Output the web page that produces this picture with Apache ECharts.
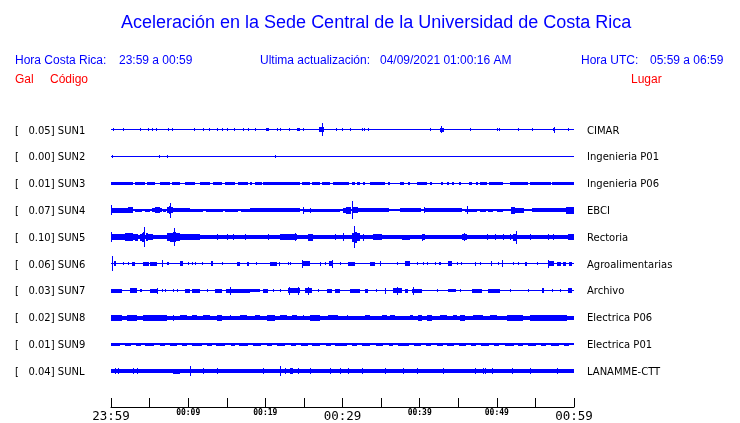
<!DOCTYPE html>
<html>
<head>
<meta charset="utf-8">
<script src="https://cdn.jsdelivr.net/npm/echarts@6.0.0/dist/echarts.min.js"></script>
<style>
html,body{margin:0;padding:0;background:#fff;}
#chart{width:740px;height:423px;}
</style>
</head>
<body>
<div id="chart"></div>
<script>
// ---- data (times in minutes after 23:59, amplitudes in plot units) ----
const tickLabels = ['23:59', '00:09', '00:19', '00:29', '00:39', '00:49', '00:59'];
const bigTicks = ['23:59', '00:29', '00:59'];
const galValues = ['0.05', '0.00', '0.01', '0.07', '0.10', '0.06', '0.03', '0.02', '0.01', '0.04'];
const codes = ['SUN1', 'SUN2', 'SUN3', 'SUN4', 'SUN5', 'SUN6', 'SUN7', 'SUN8', 'SUN9', 'SUNL'];
const places = ['CIMAR', 'Ingenieria P01', 'Ingenieria P06', 'EBCI', 'Rectoria', 'Agroalimentarias', 'Archivo', 'Electrica P06', 'Electrica P01', 'LANAMME-CTT'];

// each entry: [start minute, end minute, half amplitude]
const sun1 = [[0,60,0.6],[0.26,0.26,1.6],[1.55,1.55,1.6],[3.76,3.76,1.6],[4.8,4.8,1.6],[5.3,5.3,1.6],[5.83,5.83,1.6],[7.39,7.39,1.6],[7.9,7.9,1.6],[10.76,10.76,1.6],[11.9,11.9,1.6],[12.7,12.7,1.6],[13.74,13.74,1.6],[14.4,14.4,1.6],[15.03,15.03,1.6],[15.94,15.94,1.6],[17.1,17.1,1.6],[17.75,17.75,1.6],[18.66,18.66,1.6],[21.5,21.5,1.6],[21.9,21.9,1.6],[23.07,23.07,1.6],[24.9,24.9,1.6],[29.16,29.16,1.6],[29.9,29.9,1.6],[31.0,31.0,1.6],[32.5,32.5,1.6],[32.8,32.8,1.6],[33.3,33.3,1.6],[41.3,41.3,1.6],[46.5,46.5,1.6],[50.0,50.0,1.6],[50.3,50.3,1.6],[52.75,52.75,1.6],[54.56,54.56,1.6],[59.2,59.2,1.6],[20.1,20.5,1.5],[24.1,24.5,1.5],[27.0,27.7,2.3],[27.35,27.35,6.3],[42.6,43.1,1.8],[42.77,42.77,3.4],[57.3,57.6,1.6],[57.4,57.4,3.2]];
const sun2 = [[0,60,0.6],[0.1,0.1,1.5],[6.22,6.22,1.3],[7.26,7.26,1.3],[21.25,21.25,1.3]];
const sun3 = [[0,60,0.7],[0,2.85,1.7],[3.1,4.4,1.5],[4.7,5.8,1.5],[6.3,7.6,1.5],[7.9,8.9,1.5],[9.6,10.9,1.5],[11.5,12.8,1.5],[13.2,14.4,1.5],[14.8,16.1,1.5],[16.5,17.8,1.5],[18.0,18.3,1.5],[18.6,19.5,1.5],[19.7,24.5,1.6],[24.7,25.8,1.5],[26.0,27.1,1.5],[27.3,28.4,1.5],[28.8,30.9,1.5],[31.2,31.6,1.5],[31.9,32.3,1.5],[32.6,32.8,1.4],[33.5,35.4,1.5],[35.9,36.2,1.5],[37.4,37.9,1.5],[38.5,38.8,1.5],[39.6,40.9,1.6],[41.4,41.6,1.4],[42.7,42.9,1.4],[43.6,43.9,1.4],[44.2,44.5,1.4],[45.1,45.4,1.4],[46.4,46.8,1.4],[47.3,47.5,1.4],[47.8,48.7,1.4],[49.0,50.8,1.5],[51.7,54.0,1.5],[54.3,57.0,1.5],[57.2,60,1.6]];
const sun4 = [[0,60,1.0],[0.05,0.05,5],[0,2.8,2.3],[2.2,2.85,2.8],[3.1,4.0,1.5],[4.4,5.0,1.5],[5.3,5.7,2.2],[5.7,6.3,2.8],[6.3,6.6,2.2],[6.8,7.2,1.6],[7.26,7.5,3.2],[7.5,7.8,4.2],[7.8,8.0,3.2],[7.65,7.65,7.5],[8.0,10.2,2.0],[10.3,12.0,1.3],[12.3,14.5,1.3],[14.8,16.5,1.3],[16.8,18.0,1.3],[18.0,24.5,1.8],[24.9,24.9,3.5],[25.8,25.8,2.5],[24.9,29.7,1.7],[30.0,30.4,2.6],[30.4,31.0,3.5],[31.2,31.2,9],[31.3,32.0,3],[32.0,36.0,1.8],[37.5,40.2,1.8],[40.55,40.55,3.2],[40.6,45.5,1.8],[46.1,46.1,4.2],[45.9,47.5,1.7],[47.8,48.6,1.5],[48.9,49.6,1.5],[50.0,50.8,1.5],[51.9,52.4,3.5],[52.4,53.6,2.3],[54.6,59.0,2.0],[59.0,60,3.5]];
const sun5 = [[0,60,2.2],[0.05,0.05,5],[0,3.1,3.2],[1.8,2.85,4.0],[3.1,3.5,3.6],[3.76,4.0,3.5],[4.0,4.2,4.5],[4.2,4.5,5],[4.5,4.8,3.8],[4.3,4.3,10],[4.8,5.4,3.0],[7.26,7.6,3.8],[7.6,8.0,4.5],[8.0,8.4,5],[8.4,8.9,3.8],[8.2,8.2,9],[8.9,11.5,2.9],[13.74,13.74,3.2],[15.03,15.03,3.2],[15.8,15.8,3.2],[17.4,17.4,3.2],[20.35,20.35,3.2],[21.9,24.1,3.0],[23.8,23.8,4.2],[25.5,26.2,3.3],[29,29,3.2],[30.06,30.06,4.2],[31.2,31.5,4.5],[31.5,31.9,5.5],[31.9,32.3,4],[31.5,31.5,11],[32.7,32.7,3.5],[34.0,35.2,2.8],[37.7,38.7,2.7],[40.3,40.3,3.5],[40.3,40.7,3],[45.5,46.1,3.1],[45.8,45.8,4.2],[48.7,48.7,3],[49.75,49.75,3],[50.8,50.8,3],[51.7,51.7,3],[52.1,52.6,3.3],[52.45,52.45,6.5],[54.3,54.3,3],[56.6,56.6,3],[57.3,57.3,2.8],[59.2,60,3]];
const sun6 = [[0,60,0.7],[0.17,0.17,7.5],[0.4,0.7,2.5],[1.5,1.6,1.5],[2.2,2.3,1.5],[2.7,3.1,2.2],[4.15,4.9,2],[5.1,5.96,2],[6.6,6.6,3.5],[7.3,7.5,1.5],[8.9,9.3,2.5],[10.0,10.1,1.5],[10.5,10.6,1.5],[10.9,11.0,1.5],[11.8,11.9,1.5],[12.9,13.1,2.5],[14.4,14.5,1.5],[16.3,16.7,2],[17.6,17.8,2],[18.8,18.9,1.5],[20.6,21.5,2],[21.8,21.9,2],[22.9,23.0,1.5],[23.2,23.3,1.5],[24.75,24.75,4],[24.9,25.8,2.5],[27.1,27.2,2],[27.7,27.8,1.5],[28.2,28.6,2.5],[28.6,28.6,4],[29.7,29.8,1.5],[30.7,31.6,2],[33.57,34.2,2],[34.8,34.9,2.5],[37.0,37.1,1.5],[38.1,38.75,2.5],[39.6,39.7,1.5],[40.4,40.5,1.5],[41.0,41.1,1.5],[42.0,42.1,1.5],[42.5,42.7,1.5],[43.7,44.2,2.5],[44.8,44.9,1.5],[45.4,45.5,1.5],[47.2,47.3,2],[47.8,47.9,1.5],[49.2,49.3,2.5],[50.1,50.2,1.5],[50.7,50.7,3.5],[52.1,52.2,1.5],[52.7,52.8,1.5],[53.6,53.8,2],[55.2,55.3,1.5],[56.6,56.6,4],[56.8,57.5,2.5],[57.8,58.3,2],[58.6,59.0,2],[59.3,59.75,2]];
const sun7 = [[0,60,0.7],[0,1.4,2],[2.45,3.37,2.5],[3.8,4.0,1.5],[5.05,6.1,2],[5.9,5.9,2.8],[6.6,6.7,1.5],[7.0,7.1,1.5],[8.0,8.1,1.5],[8.5,8.6,1.5],[9.6,10.24,2],[10.5,11.5,2],[12.4,12.5,1.5],[13.5,14.4,2],[15.4,15.4,4],[14.9,18.0,2],[18.0,19.3,1.5],[19.7,20.35,2],[21.0,21.1,1.5],[21.9,22.0,1.5],[22.9,24.5,2.5],[23.1,23.1,4],[24.2,24.2,4],[25.1,26.0,2.5],[25.5,25.5,4],[26.8,26.9,1.5],[28.0,28.6,2],[29.0,29.7,1.8],[31.0,32.3,2],[32.9,33.3,1.8],[34.4,34.5,1.5],[35.5,35.5,2.8],[36.5,37.7,2.5],[37.0,37.0,3.8],[38.1,38.5,1.8],[39.0,40.3,2],[39.1,39.1,3.8],[42.3,42.4,1.5],[43.7,44.8,1.5],[45.2,45.3,1.5],[46.8,48.1,2],[48.9,50.4,2],[51.7,51.8,1.5],[54.0,54.1,1.5],[55.8,56.0,2.5],[57.1,57.2,1.5],[58.2,58.3,1.5],[59.2,59.75,2.5]];
const sun8 = [[0,60,1.8],[0,1.4,3],[2.1,3.37,2.8],[4.15,7.26,2.8],[8.0,8.1,2.8],[8.9,9.8,2.6],[10.5,11.1,2.6],[11.9,12.8,2.6],[13.7,14.4,2.8],[15.4,15.5,2.6],[16.7,17.6,2.6],[18.7,19.3,2.6],[20.2,21.25,3],[21.9,22.8,2.6],[23.4,24.1,2.6],[24.9,25.0,2.6],[25.8,27.1,2.8],[28.1,29.4,2.6],[30.6,30.7,2.6],[32.9,33.57,2.6],[35.1,35.7,2.6],[36.1,36.8,2.6],[38.75,39.1,2.6],[39.8,40.3,2.8],[41.0,41.6,2.8],[42.6,43.5,2.6],[44.3,44.8,2.6],[45.2,45.9,2.8],[46.9,48.2,2.6],[49.1,50.0,2.6],[51.3,53.4,2.8],[54.3,59.1,3]];
const sun9 = [[0,60,0.8],[0,1.2,1.3],[1.8,2.6,1.3],[3.2,3.8,1.3],[4.4,5.6,1.3],[6.3,7.0,1.3],[7.6,8.5,1.3],[9.2,9.8,1.3],[10.5,11.8,1.3],[12.4,13.0,1.3],[13.6,14.8,1.3],[15.5,16.0,1.3],[16.6,17.8,1.3],[18.4,19.5,1.3],[20.2,20.8,1.3],[21.5,22.6,1.3],[23.3,24.0,1.3],[24.6,25.5,1.3],[26.1,27.2,1.3],[27.8,28.4,1.3],[29.0,30.5,1.3],[31.2,31.8,1.3],[32.5,33.6,1.3],[34.3,35.2,1.3],[36.0,36.5,1.3],[37.2,38.6,1.3],[39.3,40.2,1.3],[40.8,41.5,1.3],[42.2,43.0,1.3],[43.6,44.5,1.3],[45.1,46.0,1.3],[46.6,47.3,1.3],[48.0,49.0,1.3],[49.6,50.3,1.3],[51.0,52.2,1.3],[52.8,53.4,1.3],[54.0,55.1,1.3],[55.7,56.4,1.3],[57.0,58.1,1.3],[58.7,59.4,1.3]];
const sunL = [[0,60,2.0],[0.5,0.5,2.8],[0.9,0.9,2.8],[2.85,2.85,3],[3.37,3.37,2.8],[8.0,8.9,2.6],[10.24,10.24,5],[11.9,11.9,3],[13.74,13.74,3],[19.7,19.7,3],[21.9,21.9,5],[22.55,22.55,3],[23.2,23.6,2.8],[24.2,24.2,3],[25.8,25.8,3],[28.4,28.4,3],[29.7,29.7,3.2],[30.7,30.7,2.8],[32.5,32.5,3],[35.5,35.5,3.2],[37.8,37.8,3],[39.65,39.65,2.8],[43.0,43.0,3],[47.2,47.2,3],[48.2,48.2,2.8],[48.5,48.5,3],[49.4,49.4,3],[51.97,51.97,3],[54.3,54.3,3],[57.8,57.8,3]];

const traces = [sun1, sun2, sun3, sun4, sun5, sun6, sun7, sun8, sun9, sunL];

// ---- layout ----
const ROW = 27;           // vertical spacing between traces (axis units)
const BLUE = '#0000ff';
const RED = '#ff0000';

function traceSeries(events, i) {
  return {
    type: 'custom',
    coordinateSystem: 'cartesian2d',
    silent: true,
    animation: false,
    clip: false,
    encode: { x: [0, 1], y: 2 },
    data: events,
    z: 2,
    renderItem: function (params, api) {
      const base = i * ROW;
      const p0 = api.coord([api.value(0), base]);
      const p1 = api.coord([api.value(1), base]);
      const amp = api.size([0, api.value(2)])[1];
      const w = Math.max(1, Math.round(p1[0] - p0[0]));
      const x = Math.round(p0[0]);
      const h = Math.max(1, Math.round(2 * amp));
      const y = Math.round(p0[1] - h / 2);
      return { type: 'rect', shape: { x: x, y: y, width: w, height: h }, style: { fill: BLUE } };
    }
  };
}

const labelSeries = {
  type: 'custom',
  coordinateSystem: 'cartesian2d',
  silent: true,
  animation: false,
  clip: false,
  encode: { x: 0, y: 0 },
  data: codes.map((c, i) => [i]),
  renderItem: function (params, api) {
    const i = params.dataIndex;
    const pl = api.coord([0, i * ROW]);
    const pr = api.coord([60, i * ROW]);
    return {
      type: 'group',
      children: [
        { type: 'text', x: pl[0] - 96, y: pl[1] + 1,
          style: { text: '[   ' + galValues[i] + '] ' + codes[i], fontFamily: 'DejaVu Sans', fontSize: 10,
                   fill: '#000', align: 'left', verticalAlign: 'middle', textAlign: 'left', textVerticalAlign: 'middle' } },
        { type: 'text', x: pr[0] + 13, y: pr[1] + 1,
          style: { text: places[i], fontFamily: 'DejaVu Sans', fontSize: 10,
                   fill: '#000', align: 'left', verticalAlign: 'middle', textAlign: 'left', textVerticalAlign: 'middle' } }
      ]
    };
  }
};

function headerText(text, x, y, color, size, align) {
  return {
    type: 'text', x: x, y: y, silent: true,
    style: { text: text, fill: color, fontFamily: 'Liberation Sans', fontSize: size,
             textAlign: align || 'left', textVerticalAlign: 'middle', align: align || 'left', verticalAlign: 'middle' }
  };
}

const option = {
  backgroundColor: '#ffffff',
  animation: false,
  grid: { left: 111, right: 166, top: 117, bottom: 14, containLabel: false },
  xAxis: {
    type: 'value', min: 0, max: 60, interval: 5,
    splitLine: { show: false },
    axisLine: { show: true, onZero: false, lineStyle: { color: '#000', width: 1 } },
    axisTick: { show: true, inside: true, length: 9, lineStyle: { color: '#000', width: 1 } },
    axisLabel: {
      show: true, margin: 2, showMinLabel: true, showMaxLabel: true, color: '#000',
      formatter: function (v) {
        if (v % 10 !== 0) return '';
        const t = tickLabels[v / 10];
        return bigTicks.indexOf(t) >= 0 ? '{big|' + t + '}' : '{small|' + t + '}';
      },
      rich: {
        big: { fontFamily: 'DejaVu Sans Mono', fontSize: 12.5, color: '#000', padding: [1, 0, 0, 0] },
        small: { fontFamily: 'DejaVu Sans Mono', fontSize: 8, fontWeight: 'bold', color: '#000', padding: [0, 0, 2, 0] }
      }
    }
  },
  yAxis: {
    type: 'value', min: -13, max: 279, inverse: true, show: false,
    splitLine: { show: false }
  },
  series: traces.map((ev, i) => traceSeries(ev, i)).concat([labelSeries]),
  graphic: [
    headerText('Aceleración en la Sede Central de la Universidad de Costa Rica', 121, 23, BLUE, 18),
    headerText('Hora Costa Rica:', 15, 61, BLUE, 12),
    headerText('23:59 a 00:59', 119, 61, BLUE, 12),
    headerText('Ultima actualización:', 260, 61, BLUE, 12),
    headerText('04/09/2021 01:00:16 AM', 380, 61, BLUE, 12),
    headerText('Hora UTC:', 581, 61, BLUE, 12),
    headerText('05:59 a 06:59', 650, 61, BLUE, 12),
    headerText('Gal', 15, 80, RED, 12),
    headerText('Código', 50, 80, RED, 12),
    headerText('Lugar', 631, 80, RED, 12)
  ]
};

const chart = echarts.init(document.getElementById('chart'), null, { renderer: 'canvas' });
chart.setOption(option);
</script>
</body>
</html>
